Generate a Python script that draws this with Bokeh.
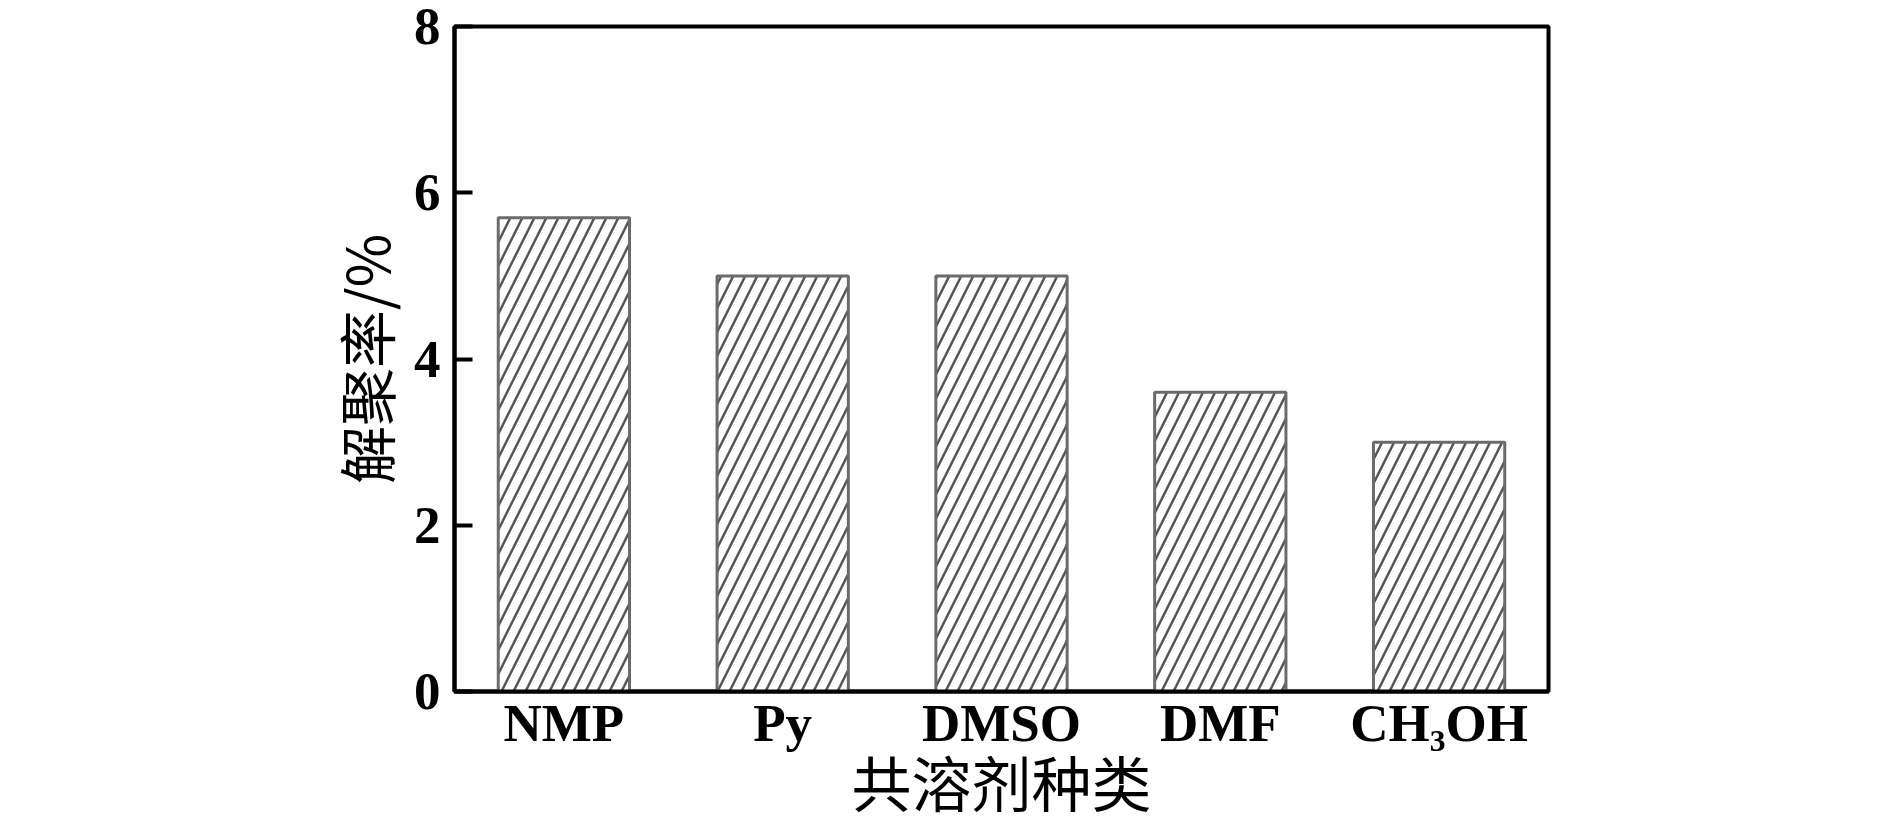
from bokeh.plotting import figure
from bokeh.models import ColumnDataSource, FactorRange, Range1d, FixedTicker
from bokeh.embed import file_html
from bokeh.resources import INLINE

categories = ["NMP", "Py", "DMSO", "DMF", "CH₃OH"]
values = [5.7, 5.0, 5.0, 3.6, 3.0]
y_ticks = [0, 2, 4, 6, 8]
x_title = "共溶剂种类"
y_title = "解聚率/%"

source = ColumnDataSource(data=dict(cat=categories, val=values))

p = figure(
    width=1890, height=827,
    x_range=FactorRange(*categories, range_padding=0),
    y_range=Range1d(0, 8),
    output_backend="svg", toolbar_location=None,
    min_border_left=454, min_border_right=342,
    min_border_top=26, min_border_bottom=136,
)
p.vbar(x="cat", top="val", width=0.6, source=source,
       fill_color="white", line_color="#6b6b6b", line_width=3,
       hatch_pattern="/", hatch_color="#555555", hatch_weight=2.5, hatch_scale=24)

p.xgrid.visible = False
p.ygrid.visible = False
p.outline_line_color = "black"
p.outline_line_width = 4
p.outline_line_alpha = 1
p.background_fill_color = "white"
p.border_fill_color = "white"

ax = p.yaxis[0]
ax.ticker = FixedTicker(ticks=y_ticks)
ax.axis_line_color = "black"
ax.axis_line_width = 4
ax.major_tick_in = 18
ax.major_tick_out = 0
ax.major_tick_line_width = 4
ax.major_tick_line_color = "black"
ax.minor_tick_line_color = None
ax.major_label_text_font = "Liberation Serif"
ax.major_label_text_font_style = "bold"
ax.major_label_text_font_size = "53px"
ax.major_label_text_color = "black"
ax.major_label_standoff = 14
ax.axis_label = y_title
ax.axis_label_text_font = "Noto Sans CJK SC"
ax.axis_label_text_font_style = "normal"
ax.axis_label_text_font_size = "58px"
ax.axis_label_text_color = "black"
ax.axis_label_standoff = 4

bx = p.xaxis[0]
bx.axis_line_color = "black"
bx.axis_line_width = 4
bx.major_tick_line_color = None
bx.minor_tick_line_color = None
bx.major_label_text_font = "Liberation Serif"
bx.major_label_text_font_style = "bold"
bx.major_label_text_font_size = "53px"
bx.major_label_text_color = "black"
bx.major_label_standoff = -4
bx.axis_label = x_title
bx.axis_label_text_font = "Noto Sans CJK SC"
bx.axis_label_text_font_style = "normal"
bx.axis_label_text_font_size = "60px"
bx.axis_label_text_color = "black"
bx.axis_label_standoff = -18

open("out.html", "w").write(file_html(p, INLINE))
